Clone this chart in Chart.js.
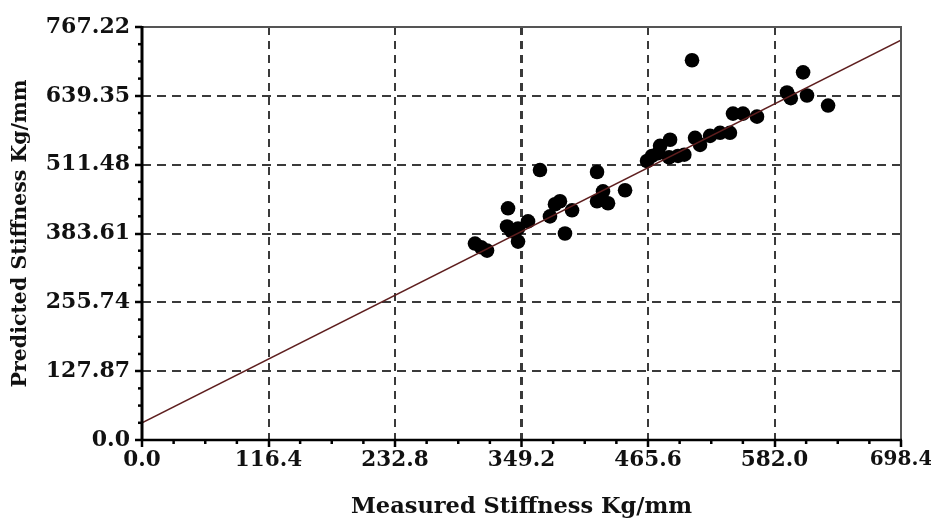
<!DOCTYPE html>
<html>
<head>
<meta charset="utf-8">
<script src="https://cdn.jsdelivr.net/npm/chart.js@4/dist/chart.umd.min.js"></script>
<style>
html,body{margin:0;padding:0;background:#fff;}
#wrap{width:931px;height:522px;position:relative;}
</style>
</head>
<body>
<div id="wrap"><canvas id="c" width="931" height="522"></canvas></div>
<script>
// ---- data ----
const xMajor = [0, 116.4, 232.8, 349.2, 465.6, 582.0, 698.4];
const xTickLabels = ['0.0', '116.4', '232.8', '349.2', '465.6', '582.0', '698.4'];
const yMajor = [0, 127.87, 255.74, 383.61, 511.48, 639.35, 767.22];
const yTickLabels = ['0.0', '127.87', '255.74', '383.61', '511.48', '639.35', '767.22'];

const measured = [306.4, 317.5, 312.0, 335.9, 336.8, 346.0, 346.0, 355.2, 366.2, 375.4,
                  384.6, 389.2, 395.7, 418.7, 418.7, 424.2, 428.8, 444.5, 464.7, 469.3,
                  476.7, 485.9, 493.2, 485.0, 506.1, 508.9, 513.5, 522.7, 531.9, 541.0,
                  543.8, 553.0, 565.9, 593.5, 597.0, 608.3, 611.9, 631.3, 380.0, 499.0,
                  340.0, 475.0];
const predicted = [364.9, 351.8, 358.0, 396.7, 430.4, 393.0, 368.6, 406.1, 501.5, 415.4,
                   443.5, 383.6, 426.7, 497.8, 443.5, 462.0, 439.8, 464.0, 518.3, 527.7,
                   546.4, 557.7, 527.7, 525.0, 705.5, 561.4, 548.3, 565.0, 570.7, 570.7,
                   606.3, 606.3, 600.7, 645.6, 635.0, 683.0, 640.0, 621.3, 438.0, 530.0,
                   388.0, 533.0];
const fitX = [0, 698.4];
const fitY = [31.8, 742.9];

// ---- styles ----
const tickFont = {family: 'DejaVu Serif', weight: 'bold', size: 22};
const xTitleFont = {family: 'DejaVu Serif', weight: 'bold', size: 22.5};
const yTitleFont = {family: 'DejaVu Serif', weight: 'bold', size: 20.5};
const txt = '#111';

const frame = {
  id: 'frame',
  afterDatasetsDraw(chart) {
    const {ctx, chartArea: a, scales} = chart;
    ctx.save();
    ctx.strokeStyle = '#000';
    ctx.lineWidth = 2.5;
    for (let i = 0; i < xMajor.length - 1; i++) {
      const st = (xMajor[i + 1] - xMajor[i]) / 4;
      for (let k = 1; k < 4; k++) {
        const px = scales.x.getPixelForValue(xMajor[i] + k * st);
        ctx.beginPath(); ctx.moveTo(px, a.bottom); ctx.lineTo(px, a.bottom + 4); ctx.stroke();
      }
    }
    for (let i = 0; i < yMajor.length - 1; i++) {
      const st = (yMajor[i + 1] - yMajor[i]) / 4;
      for (let k = 1; k < 4; k++) {
        const py = scales.y.getPixelForValue(yMajor[i] + k * st);
        ctx.beginPath(); ctx.moveTo(a.left, py); ctx.lineTo(a.left - 4, py); ctx.stroke();
      }
    }
    ctx.strokeStyle = '#555';
    ctx.lineWidth = 2;
    ctx.beginPath();
    ctx.moveTo(a.left, a.top); ctx.lineTo(a.right, a.top); ctx.lineTo(a.right, a.bottom);
    ctx.stroke();
    ctx.strokeStyle = '#000';
    ctx.lineWidth = 3;
    ctx.beginPath(); ctx.moveTo(a.left, a.top - 1); ctx.lineTo(a.left, a.bottom + 1); ctx.stroke();
    ctx.lineWidth = 2.5;
    ctx.beginPath(); ctx.moveTo(a.left, a.bottom); ctx.lineTo(a.right + 1, a.bottom); ctx.stroke();
    ctx.restore();
  }
};

new Chart(document.getElementById('c'), {
  type: 'scatter',
  data: {
    datasets: [
      {
        type: 'line',
        data: fitX.map((x, i) => ({x: x, y: fitY[i]})),
        borderColor: '#5e1e1e',
        borderWidth: 1.6,
        pointRadius: 0,
        showLine: true,
        fill: false
      },
      {
        data: measured.map((x, i) => ({x: x, y: predicted[i]})),
        backgroundColor: '#000',
        borderColor: '#000',
        borderWidth: 0,
        pointRadius: 7.3,
        pointHoverRadius: 7.3
      }
    ]
  },
  options: {
    responsive: false,
    animation: false,
    events: [],
    layout: {padding: {top: 27, right: 30, left: 0, bottom: 0}},
    plugins: {legend: {display: false}, tooltip: {enabled: false}},
    scales: {
      x: {
        type: 'linear', min: 0, max: 698.4,
        afterBuildTicks: s => { s.ticks = xMajor.map(v => ({value: v})); },
        afterFit: s => { s.height = 82; s.paddingLeft = 0; s.paddingRight = 0; },
        ticks: {
          callback: (v, i) => xTickLabels[i],
          font: c => Object.assign({}, tickFont, {size: c.index === xMajor.length - 1 ? 20 : 21.5}),
          color: txt, padding: 1, maxRotation: 0, autoSkip: false
        },
        grid: {
          color: c => (c.index === 0 || c.index === xMajor.length - 1) ? 'rgba(0,0,0,0)' : '#3a3a3a',
          lineWidth: c => c.index === 3 ? 3 : 2,
          tickColor: '#000', tickWidth: 2.5, tickLength: 7
        },
        border: {display: false, dash: [8, 6]},
        title: {display: true, text: 'Measured Stiffness Kg/mm', font: xTitleFont, color: txt,
                padding: {top: 4, bottom: 1}}
      },
      y: {
        type: 'linear', min: 0, max: 767.22,
        afterBuildTicks: s => { s.ticks = yMajor.map(v => ({value: v})); },
        afterFit: s => { s.width = 142; s.paddingTop = 0; s.paddingBottom = 0; },
        ticks: {
          callback: (v, i) => yTickLabels[i],
          font: tickFont, color: txt, padding: 5, autoSkip: false
        },
        grid: {
          color: c => (c.index === 0 || c.index === yMajor.length - 1) ? 'rgba(0,0,0,0)' : '#3a3a3a',
          lineWidth: 2,
          tickColor: '#000', tickWidth: 2.5, tickLength: 7
        },
        border: {display: false, dash: [9, 6]},
        title: {display: true, text: 'Predicted Stiffness Kg/mm', font: yTitleFont, color: txt,
                padding: {top: 8, bottom: 4}}
      }
    }
  },
  plugins: [frame]
});
</script>
</body>
</html>
